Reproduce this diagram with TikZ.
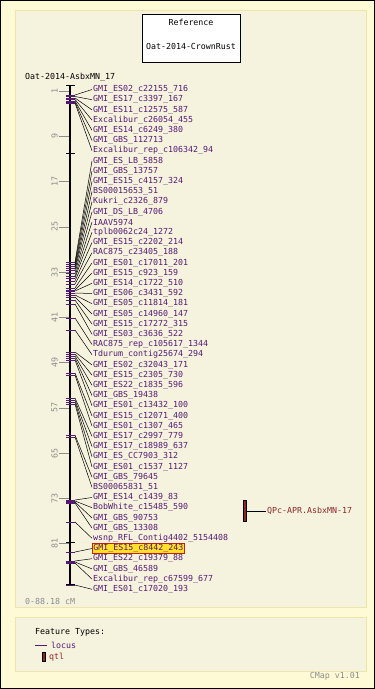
\documentclass[tikz,border=0pt]{standalone}
\usepackage{fontspec}
\newfontfamily\cmapfont{DejaVu Sans Mono}
\usetikzlibrary{positioning}
\definecolor{bgouter}{RGB}{254,250,214}
\definecolor{bginner}{RGB}{245,243,222}
\definecolor{panelline}{RGB}{238,230,168}
\definecolor{locuscol}{RGB}{85,25,115}
\definecolor{qtlcol}{RGB}{140,40,40}
\definecolor{axisgray}{RGB}{140,140,140}
\definecolor{hlyellow}{RGB}{255,226,40}
\definecolor{hlred}{RGB}{200,30,20}
\tikzstyle{panel}      = [draw=panelline, fill=bginner, line width=1pt]
\tikzstyle{plain}      = [inner sep=1pt, font=\cmapfont\fontsize{8.3}{9}\selectfont]
\tikzstyle{locus}      = [plain, anchor=west, text=locuscol]
\tikzstyle{locushl}    = [locus, fill=hlyellow, draw=hlred, line width=0.8pt]
\tikzstyle{axislabel}  = [plain, rotate=90, text=axisgray, inner sep=0pt]
\tikzstyle{link}       = [draw, black, line width=0.5pt]
\tikzstyle{markertick} = [draw=locuscol, line width=1pt]
\tikzstyle{blacktick}  = [draw=black, line width=1pt]
\tikzstyle{qtlbar}     = [draw=black, fill=qtlcol, line width=0.6pt, minimum width=3pt, minimum height=21pt, inner sep=0pt]

\begin{document}
\begin{tikzpicture}[x=1pt, y=-1pt]
            \useasboundingbox (0,0) rectangle (375,689);
            \fill[bgouter, draw=black, line width=1.5pt] (0,0) rectangle (375,689);
            \path[panel] (15,10) rectangle (366,607);
            \path[panel] (15,617) rectangle (366,671);

            \node[draw=black, fill=white, line width=0.8pt, minimum width=98pt, minimum height=48pt] (refbox) at (191,38) {};
            \node[plain] (reftitle) at (191,22) {Reference};
            \node[plain] (refname) at (191,46) {Oat-2014-CrownRust};
            \node[plain, anchor=west] (maptitle) at (24,77) {Oat-2014-AsbxMN\_17};

            \foreach \c in {1,9,...,81} {
                \draw[axisgray, line width=0.6pt] (59,{85.3+5.66*\c}) -- (70,{85.3+5.66*\c});
                \node[axislabel] (t\c) at (54.5,{85.3+5.66*\c}) {\c};
            }
            \draw[line width=2.2pt] (70,85) -- (70,585);
            \draw[blacktick] (66,85.5) -- (75,85.5);
            \draw[blacktick] (66,584.5) -- (75,584.5);
            \foreach \b in {153,262,330,375,398,522,542} {
                \draw[blacktick] (66,\b) -- (75,\b);
            }

            \foreach \ym/\txt/\sty [count=\i] in {
                95/GMI\_ES02\_c22155\_716/locus, 96.5/GMI\_ES17\_c3397\_167/locus,
                98/GMI\_ES11\_c12575\_587/locus, 99.5/Excalibur\_c26054\_455/locus,
                101/GMI\_ES14\_c6249\_380/locus, 102/GMI\_GBS\_112713/locus,
                103/Excalibur\_rep\_c106342\_94/locus, 262/GMI\_ES\_LB\_5858/locus,
                264/GMI\_GBS\_13757/locus, 266/GMI\_ES15\_c4157\_324/locus,
                268/BS00015653\_51/locus, 270/Kukri\_c2326\_879/locus,
                273/GMI\_DS\_LB\_4706/locus, 276/IAAV5974/locus,
                278/tplb0062c24\_1272/locus, 281/GMI\_ES15\_c2202\_214/locus,
                284/RAC875\_c23405\_188/locus, 288/GMI\_ES01\_c17011\_201/locus,
                290/GMI\_ES15\_c923\_159/locus, 291/GMI\_ES14\_c1722\_510/locus,
                293/GMI\_ES06\_c3431\_592/locus, 295/GMI\_ES05\_c11814\_181/locus,
                297/GMI\_ES05\_c14960\_147/locus, 300/GMI\_ES15\_c17272\_315/locus,
                304/GMI\_ES03\_c3636\_522/locus, 318/RAC875\_rep\_c105617\_1344/locus,
                330/Tdurum\_contig25674\_294/locus, 352/GMI\_ES02\_c32043\_171/locus,
                354/GMI\_ES15\_c2305\_730/locus, 356/GMI\_ES22\_c1835\_596/locus,
                358/GMI\_GBS\_19438/locus, 360/GMI\_ES01\_c13432\_100/locus,
                373/GMI\_ES15\_c12071\_400/locus, 375/GMI\_ES01\_c1307\_465/locus,
                398/GMI\_ES17\_c2997\_779/locus, 400/GMI\_ES17\_c18989\_637/locus,
                402/GMI\_ES\_CC7903\_312/locus, 404/GMI\_ES01\_c1537\_1127/locus,
                435/GMI\_GBS\_79645/locus, 437/BS00065831\_51/locus,
                500/GMI\_ES14\_c1439\_83/locus, 501/BobWhite\_c15485\_590/locus,
                502/GMI\_GBS\_90753/locus, 503/GMI\_GBS\_13308/locus,
                522/wsnp\_RFL\_Contig4402\_5154408/locus, 552/GMI\_ES15\_c8442\_243/locushl,
                561/GMI\_ES22\_c19379\_88/locus, 562/GMI\_GBS\_46589/locus,
                563/Excalibur\_rep\_c67599\_677/locus, 585/GMI\_ES01\_c17020\_193/locus} {
                \draw[markertick] (66,\ym) -- (75,\ym);
                \coordinate (m\i) at (75,\ym);
                \node[\sty] (l\i) at (92,{89.5+(\i-1)*10.2}) {\txt};
                \path[link] (m\i) -- (l\i.west);
            }

            \node[plain, anchor=west, text=axisgray] (range) at (24,601) {0-88.18 cM};

            \node[qtlbar] (qtl) at (245,511) {};
            \node[plain, anchor=west, text=qtlcol] (qtlname) at (266,511) {QPc-APR.AsbxMN-17};
            \path[link] (qtl.east) -- (qtlname.west);

            \node[plain, anchor=west] (legendtitle) at (34,632) {Feature Types:};
            \node[plain, anchor=west, text=locuscol] (locuskey) at (50,645) {locus};
            \coordinate (locusstart) at (35,645);
            \coordinate (locusend) at (47,645);
            \draw[locuscol, line width=1pt] (locusstart) -- (locusend);
            \node[qtlbar, minimum height=9pt] (qtlkey) at (44,657) {};
            \node[plain, anchor=west, text=qtlcol] (qtlkeyname) at (48,657) {qtl};

            \node[plain, anchor=east, text=axisgray] (version) at (361,676) {CMap v1.01};
        \end{tikzpicture}
\end{document}
